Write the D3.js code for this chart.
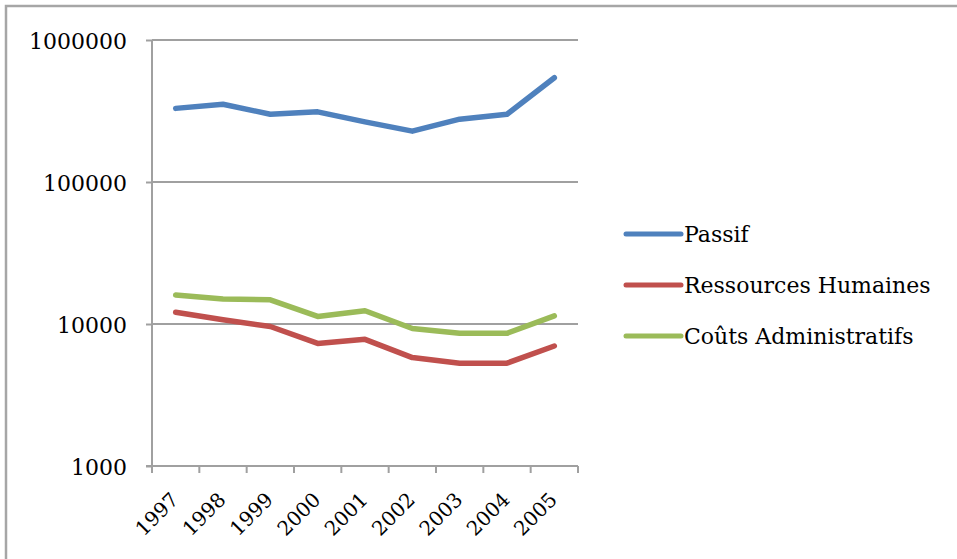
<!DOCTYPE html>
<meta charset="utf-8">
<style>
body { margin: 0; background: #fff; }
text { font-family: "DejaVu Serif", serif; font-size: 22px; fill: #000; }
.annee { font-size: 20px; }
.grid line { stroke: #a0a0a0; stroke-width: 2px; }
.axis path, .axis line { stroke: #a0a0a0; stroke-width: 2px; }
.serie { fill: none; stroke-width: 5.5px; stroke-linejoin: round; stroke-linecap: round; }
</style>
<body>
<script src="https://cdn.jsdelivr.net/npm/d3@7"></script>
<script>

// data
var annees = ["1997", "1998", "1999", "2000", "2001", "2002", "2003", "2004", "2005"];
var passif = [330000, 353000, 300000, 312000, 265000, 228000, 277000, 300000, 542000];
var ressources = [12100, 10700, 9600, 7300, 7800, 5800, 5300, 5300, 7000];
var couts = [16000, 15000, 14800, 11300, 12400, 9300, 8600, 8600, 11400];
var yTicks = [1000, 10000, 100000, 1000000];

var series = [
  {nom: "Passif", valeurs: passif, couleur: "#4f81bd"},
  {nom: "Ressources Humaines", valeurs: ressources, couleur: "#c0504d"},
  {nom: "Coûts Administratifs", valeurs: couts, couleur: "#9bbb59"}
];

var W = 957, H = 559;
var plot = {left: 152, right: 578, top: 40, bottom: 466};

var svg = d3.select("body").append("svg")
    .attr("width", W)
    .attr("height", H);

// outer frame
svg.append("rect")
    .attr("x", 6).attr("y", 6)
    .attr("width", W + 10).attr("height", H + 10)
    .attr("fill", "none")
    .attr("stroke", "#a6a6a6")
    .attr("stroke-width", 2.5);

var x = d3.scaleBand().domain(annees).range([plot.left, plot.right]);
var y = d3.scaleLog().domain([1000, 1000000]).range([plot.bottom, plot.top]);

// horizontal gridlines
svg.append("g")
    .attr("class", "grid")
    .selectAll("line")
    .data(yTicks.slice(1))
    .enter().append("line")
    .attr("x1", plot.left).attr("x2", plot.right)
    .attr("y1", function(d) { return y(d); })
    .attr("y2", function(d) { return y(d); });

// y axis
var yAxis = svg.append("g")
    .attr("class", "axis")
    .attr("transform", "translate(" + plot.left + ",0)")
    .call(d3.axisLeft(y).tickValues(yTicks).tickFormat(d3.format("d")).tickSize(6).tickSizeOuter(0).tickPadding(19));
yAxis.selectAll("text").attr("dy", "0.4em");
yAxis.select(".domain").attr("d", "M0," + plot.top + "V" + plot.bottom);

// x axis: ticks between categories
var xAxis = svg.append("g").attr("class", "axis");
xAxis.append("line")
    .attr("x1", plot.left - 6).attr("x2", plot.right)
    .attr("y1", plot.bottom).attr("y2", plot.bottom);
xAxis.selectAll(".tk")
    .data(annees.concat(["fin"]))
    .enter().append("line")
    .attr("class", "tk")
    .attr("x1", function(d) { return d === "fin" ? x.range()[1] : x(d); })
    .attr("x2", function(d) { return d === "fin" ? x.range()[1] : x(d); })
    .attr("y1", plot.bottom).attr("y2", plot.bottom + 7);

svg.append("g").selectAll("text")
    .data(annees)
    .enter().append("text")
    .attr("class", "annee")
    .attr("text-anchor", "end")
    .attr("transform", function(d) {
      return "translate(" + (x(d) + x.bandwidth() / 2 + 4) + "," + (plot.bottom + 35) + ") rotate(-45)";
    })
    .text(function(d) { return d; });

// lines
var ligne = d3.line()
    .x(function(d, i) { return x(annees[i]) + x.bandwidth() / 2; })
    .y(function(d) { return y(d); });

svg.selectAll(".serie")
    .data(series)
    .enter().append("path")
    .attr("class", "serie")
    .attr("stroke", function(d) { return d.couleur; })
    .attr("d", function(d) { return ligne(d.valeurs); });

// legend
var leg = svg.selectAll(".leg")
    .data(series)
    .enter().append("g")
    .attr("class", "leg")
    .attr("transform", function(d, i) { return "translate(626," + (234 + i * 51) + ")"; });

leg.append("line")
    .attr("x1", 0).attr("x2", 55)
    .attr("stroke", function(d) { return d.couleur; })
    .attr("stroke-width", 5)
    .attr("stroke-linecap", "round");

leg.append("text")
    .attr("x", 58)
    .attr("dy", "0.36em")
    .text(function(d) { return d.nom; });

</script>
</body>
